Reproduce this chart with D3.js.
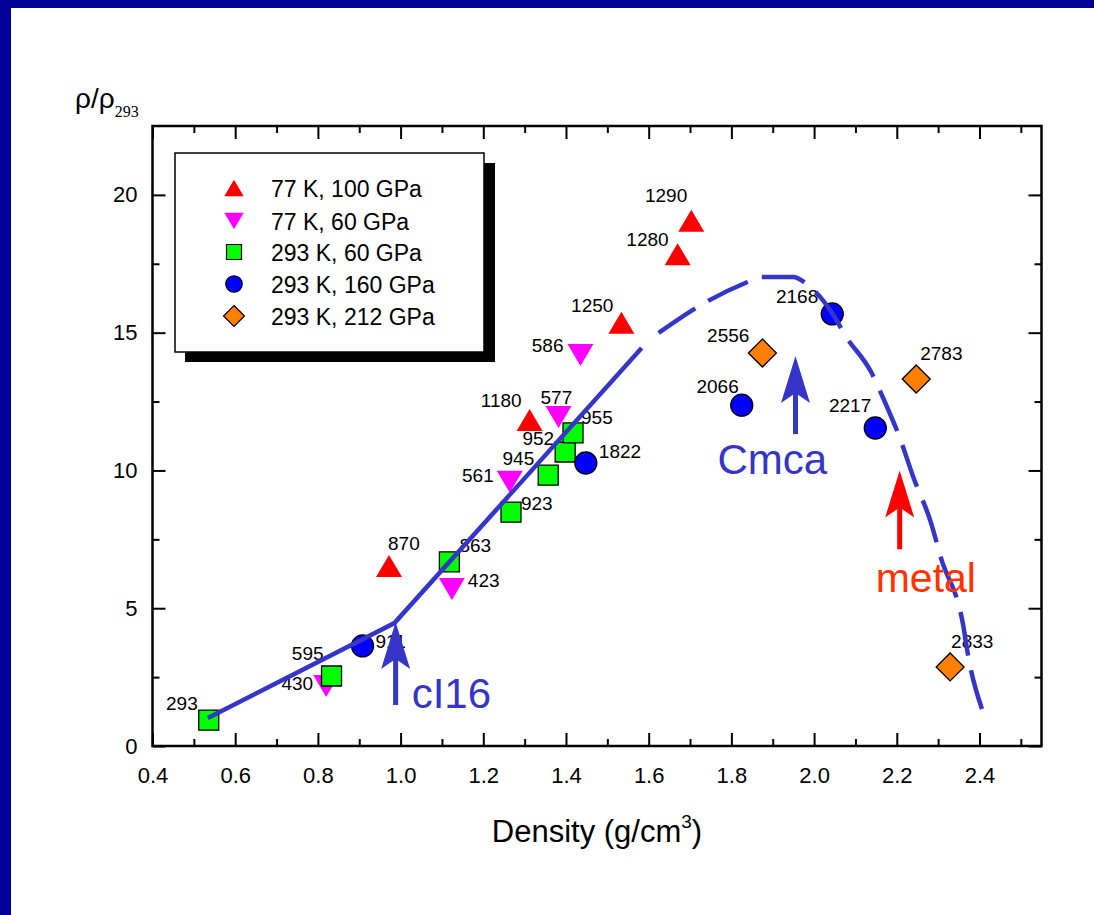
<!DOCTYPE html>
<html>
<head>
<meta charset="utf-8">
<script src="https://cdn.jsdelivr.net/npm/d3@7"></script>
<style>
  body { margin: 0; background: #fff; }
  svg { display: block; font-family: "Liberation Sans", Arial, sans-serif; }
</style>
</head>
<body>
<div id="chart"></div>
<script>
// series names (legend)
var seriesNames = ["77 K, 100 GPa", "77 K, 60 GPa", "293 K, 60 GPa", "293 K, 160 GPa", "293 K, 212 GPa"];

// 77 K, 100 GPa
var densA = [0.972, 1.312, 1.534, 1.670, 1.703];
var ratioA = [6.53, 11.83, 15.36, 17.85, 19.06];
var tempA = ["870", "1180", "1250", "1280", "1290"];

// 77 K, 60 GPa
var densB = [0.820, 1.124, 1.264, 1.382, 1.435];
var ratioB = [2.18, 5.70, 9.59, 11.94, 14.19];
var tempB = ["430", "423", "561", "577", "586"];

// 293 K, 60 GPa
var densC = [0.536, 0.833, 1.118, 1.267, 1.357, 1.398, 1.417];
var ratioC = [0.94, 2.54, 6.68, 8.49, 9.83, 10.67, 11.36];
var tempC = ["293", "595", "863", "923", "945", "952", "955"];

// 293 K, 160 GPa
var densD = [0.908, 1.448, 1.825, 2.044, 2.148];
var ratioD = [3.63, 10.27, 12.37, 15.68, 11.54];
var tempD = ["911", "1822", "2066", "2168", "2217"];

// 293 K, 212 GPa
var densE = [1.875, 2.247, 2.329];
var ratioE = [14.26, 13.32, 2.87];
var tempE = ["2556", "2783", "2833"];

// guide lines
var solidX = [0.534, 0.985, 1.583];
var solidY = [1.02, 4.46, 14.44];
var dashX = [1.624, 1.735, 1.839, 1.870, 1.950, 1.979, 2.042, 2.078, 2.138, 2.167, 2.210, 2.239, 2.283, 2.307, 2.360, 2.374, 2.406];
var dashY = [14.99, 16.08, 16.84, 17.02, 17.02, 16.80, 15.75, 14.84, 13.57, 12.63, 11.07, 9.80, 8.09, 6.82, 4.43, 3.16, 1.34];

// axis ticks
var xTicks = [0.4, 0.6, 0.8, 1.0, 1.2, 1.4, 1.6, 1.8, 2.0, 2.2, 2.4];
var xMinor = [0.5, 0.7, 0.9, 1.1, 1.3, 1.5, 1.7, 1.9, 2.1, 2.3, 2.5];
var yTicks = [0, 5, 10, 15, 20];
var yMinor = [2.5, 7.5, 12.5, 17.5];

// phase annotations: label, x, arrow tail y, arrow tip y
var phaseNames = ["cI16", "Cmca", "metal"];
var phaseX = [0.988, 1.955, 2.207];
var phaseTail = [1.49, 11.32, 7.14];
var phaseTip = [4.50, 14.15, 10.0];

// label placement per point: [dx, dy, anchor]
var labPos = {
  A: [[-1, -16, "start"], [-8, -13, "end"], [-8, -11, "end"], [-9, -8, "end"], [-4, -19, "end"]],
  B: [[-13, 4, "end"], [16, -2, "start"], [-16, 0, "end"], [-18, -13, "start"], [-17, -3, "end"]],
  C: [[-11, -10, "end"], [-8, -16, "end"], [10, -10, "start"], [10, -2, "start"], [-14, -10, "end"], [-11, -7, "end"], [8, -9, "start"]],
  D: [[13, 2, "start"], [13, -5, "start"], [-3, -12, "end"], [-14, -11, "end"], [-4, -16, "end"]],
  E: [[-13, -11, "end"], [4, -19, "start"], [1, -19, "start"]]
};

var svgWidth = 1094;
var svgHeight = 915;
var margin = { top: 126, right: 52.5, bottom: 169, left: 152.5 };

var svg = d3.select("#chart")
  .append("svg")
  .attr("width", svgWidth)
  .attr("height", svgHeight);

svg.append("rect").attr("width", svgWidth).attr("height", svgHeight).attr("fill", "#fff");
// slide border
svg.append("rect").attr("x", 0).attr("y", 0).attr("width", svgWidth).attr("height", 8).attr("fill", "#000099");
svg.append("rect").attr("x", 0).attr("y", 0).attr("width", 11).attr("height", svgHeight).attr("fill", "#000099");

var xScale = d3.scaleLinear().domain([0.4, 2.55]).range([margin.left, svgWidth - margin.right]);
var yScale = d3.scaleLinear().domain([0, 22.5]).range([svgHeight - margin.bottom, margin.top]);

var bottomY = yScale(0), topY = yScale(22.5), leftX = xScale(0.4), rightX = xScale(2.55);

function styleAxis(g, hideText) {
  g.select(".domain").remove();
  g.selectAll(".tick line").attr("stroke", "#000").attr("stroke-width", 2);
  g.selectAll("text").attr("font-size", "22px").attr("fill", "#000");
  if (hideText) g.selectAll("text").remove();
}

// bottom
svg.append("g").attr("transform", `translate(0, ${bottomY})`)
  .call(d3.axisBottom(xScale).tickValues(xTicks).tickSize(-13).tickPadding(21).tickFormat(d3.format(".1f")))
  .call(styleAxis, false);
svg.append("g").attr("transform", `translate(0, ${bottomY})`)
  .call(d3.axisBottom(xScale).tickValues(xMinor).tickSize(-7))
  .call(styleAxis, true);
// top
svg.append("g").attr("transform", `translate(0, ${topY})`)
  .call(d3.axisTop(xScale).tickValues(xTicks).tickSize(-13))
  .call(styleAxis, true);
svg.append("g").attr("transform", `translate(0, ${topY})`)
  .call(d3.axisTop(xScale).tickValues(xMinor).tickSize(-7))
  .call(styleAxis, true);
// left
svg.append("g").attr("transform", `translate(${leftX}, 0)`)
  .call(d3.axisLeft(yScale).tickValues(yTicks).tickSize(-13).tickPadding(15))
  .call(styleAxis, false);
svg.append("g").attr("transform", `translate(${leftX}, 0)`)
  .call(d3.axisLeft(yScale).tickValues(yMinor).tickSize(-7))
  .call(styleAxis, true);
// right
svg.append("g").attr("transform", `translate(${rightX}, 0)`)
  .call(d3.axisRight(yScale).tickValues(yTicks).tickSize(-13))
  .call(styleAxis, true);
svg.append("g").attr("transform", `translate(${rightX}, 0)`)
  .call(d3.axisRight(yScale).tickValues(yMinor).tickSize(-7))
  .call(styleAxis, true);

// frame
svg.append("rect")
  .attr("x", leftX).attr("y", topY)
  .attr("width", rightX - leftX).attr("height", bottomY - topY)
  .attr("fill", "none").attr("stroke", "#000").attr("stroke-width", 2.5);

// marker shapes, s = scale factor
function shapePath(kind, s) {
  if (kind === "up") return `M0,${-11 * s}L${13 * s},${11 * s}L${-13 * s},${11 * s}Z`;
  if (kind === "down") return `M0,${11 * s}L${13 * s},${-11 * s}L${-13 * s},${-11 * s}Z`;
  if (kind === "square") return `M${-10 * s},${-10 * s}h${20 * s}v${20 * s}h${-20 * s}Z`;
  if (kind === "diamond") return `M0,${-14 * s}L${14 * s},0L0,${14 * s}L${-14 * s},0Z`;
  var r = 11 * s;
  return `M${r},0A${r},${r} 0 1,1 ${-r},0A${r},${r} 0 1,1 ${r},0Z`;
}

var series = [
  { key: "A", kind: "up", color: "#ff0000", stroke: "none", dens: densA, ratio: ratioA, temp: tempA },
  { key: "B", kind: "down", color: "#ff00ff", stroke: "none", dens: densB, ratio: ratioB, temp: tempB },
  { key: "C", kind: "square", color: "#00ff00", stroke: "#000", dens: densC, ratio: ratioC, temp: tempC },
  { key: "D", kind: "circle", color: "#0000ff", stroke: "#000", dens: densD, ratio: ratioD, temp: tempD },
  { key: "E", kind: "diamond", color: "#ff8000", stroke: "#000", dens: densE, ratio: ratioE, temp: tempE }
];

var pointsGroup = svg.append("g");
var labelsGroup = svg.append("g");
series.forEach(function(s) {
  var pts = s.dens.map(function(d, i) {
    return { x: d, y: s.ratio[i], t: s.temp[i], pos: labPos[s.key][i] };
  });
  pointsGroup.selectAll(null)
    .data(pts)
    .enter()
    .append("path")
    .attr("d", shapePath(s.kind, 1))
    .attr("transform", d => `translate(${xScale(d.x)}, ${yScale(d.y)})`)
    .attr("fill", s.color)
    .attr("stroke", s.stroke)
    .attr("stroke-width", 1.3);
  labelsGroup.selectAll(null)
    .data(pts)
    .enter()
    .append("text")
    .attr("x", d => xScale(d.x) + d.pos[0])
    .attr("y", d => yScale(d.y) + d.pos[1])
    .attr("text-anchor", d => d.pos[2])
    .attr("font-size", "19px")
    .attr("fill", "#000")
    .text(d => d.t);
});

// guide lines
var line = d3.line().x(d => xScale(d[0])).y(d => yScale(d[1]));
var curve = d3.line().x(d => xScale(d[0])).y(d => yScale(d[1])).curve(d3.curveMonotoneX);
var lineColor = "#3535c8";
svg.append("path")
  .attr("d", line(solidX.map((d, i) => [d, solidY[i]])))
  .attr("fill", "none").attr("stroke", lineColor).attr("stroke-width", 4.5);
svg.append("path")
  .attr("d", curve(dashX.map((d, i) => [d, dashY[i]])))
  .attr("fill", "none").attr("stroke", lineColor).attr("stroke-width", 4.5)
  .attr("stroke-dasharray", "44,15");

// phase arrows and names
var arrowColors = [lineColor, lineColor, "#ff0000"];
var nameColors = [lineColor, lineColor, "#ff3300"];
var nameShift = [[16, 3], [-78, 40], [-24, 43]];
phaseNames.forEach(function(name, i) {
  var ax = xScale(phaseX[i]);
  var tail = yScale(phaseTail[i]);
  var tip = yScale(phaseTip[i]);
  svg.append("line")
    .attr("x1", ax).attr("x2", ax)
    .attr("y1", tail).attr("y2", tip + 30)
    .attr("stroke", arrowColors[i]).attr("stroke-width", 5);
  svg.append("path")
    .attr("d", `M${ax},${tip}L${ax + 14.5},${tip + 47}L${ax},${tip + 37}L${ax - 14.5},${tip + 47}Z`)
    .attr("fill", arrowColors[i]);
  svg.append("text")
    .attr("x", ax + nameShift[i][0])
    .attr("y", tail + nameShift[i][1])
    .attr("font-size", i === 2 ? "41px" : "42px")
    .attr("fill", nameColors[i])
    .text(name);
});

// axis titles
var xTitle = svg.append("text")
  .attr("x", 597).attr("y", 842)
  .attr("text-anchor", "middle")
  .attr("font-size", "31px")
  .attr("fill", "#000");
xTitle.append("tspan").text("Density (g/cm");
xTitle.append("tspan").attr("font-size", "19px").attr("dy", -14).text("3");
xTitle.append("tspan").attr("dy", 14).text(")");

var yTitle = svg.append("text")
  .attr("x", 75).attr("y", 108)
  .attr("font-size", "28px")
  .attr("fill", "#000");
yTitle.append("tspan").text("\u03c1/\u03c1");
yTitle.append("tspan")
  .attr("font-family", "'Liberation Serif', 'Times New Roman', serif")
  .attr("font-size", "16px")
  .attr("dy", 9)
  .text("293");

// legend
var legend = svg.append("g");
legend.append("rect")
  .attr("x", 185).attr("y", 163).attr("width", 310).attr("height", 199)
  .attr("fill", "#000");
legend.append("rect")
  .attr("x", 175).attr("y", 153).attr("width", 309).attr("height", 199)
  .attr("fill", "#fff").attr("stroke", "#000").attr("stroke-width", 1.5);
var rowY = [188, 221, 252, 284, 316];
series.forEach(function(s, i) {
  legend.append("path")
    .attr("d", shapePath(s.kind, 0.75))
    .attr("transform", `translate(234, ${rowY[i]})`)
    .attr("fill", s.color)
    .attr("stroke", s.stroke)
    .attr("stroke-width", 1.2);
  legend.append("text")
    .attr("x", 271).attr("y", rowY[i] + 8.5)
    .attr("font-size", "23px")
    .attr("fill", "#000")
    .text(seriesNames[i]);
});
</script>
</body>
</html>
